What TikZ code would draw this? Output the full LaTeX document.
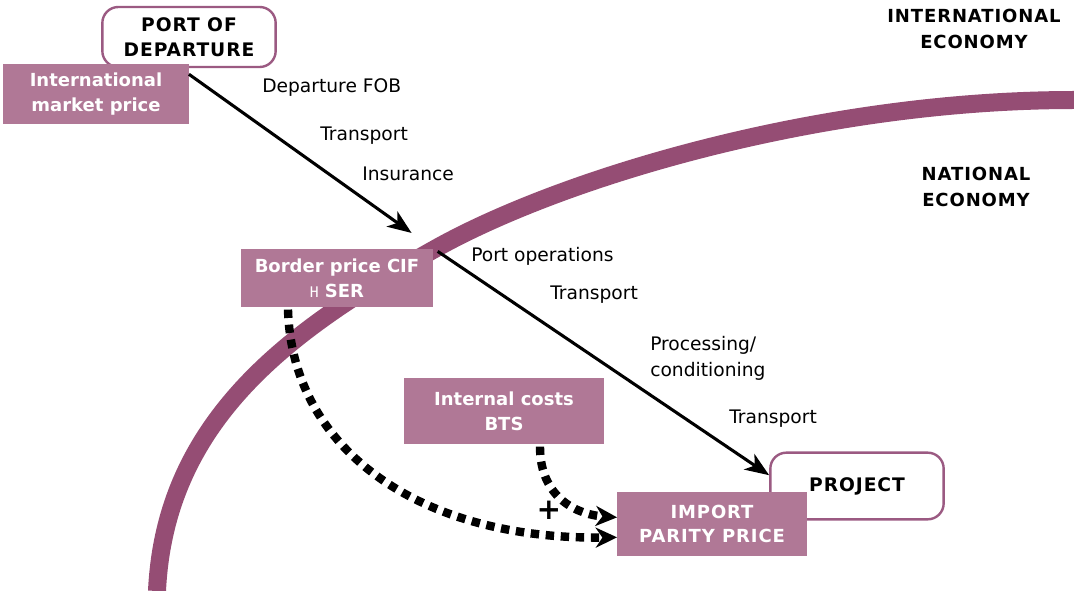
\documentclass[tikz,border=0pt]{standalone}
\usepackage{fontspec}
\setmainfont{DejaVu Sans}
\newfontfamily\capsfont[LetterSpace=5]{DejaVu Sans}
\newfontfamily\symfont{DejaVu Sans Mono}
\usetikzlibrary{arrows.meta, positioning, calc}
\definecolor{ipmauve}{RGB}{176,120,150}
\definecolor{ipplum}{RGB}{149,77,116}
\definecolor{ipedge}{RGB}{155,90,130}

\begin{document}
\begin{tikzpicture}[
  x=0.75pt, y=-0.75pt,
  pricebox/.style={rectangle, fill=ipmauve, draw=none, text=white, align=center, font=\fontsize{13.5}{18.5}\selectfont\bfseries},
  placebox/.style={rectangle, draw=ipedge, fill=white, line width=1.8pt, rounded corners=12pt, align=center, font=\fontsize{14}{19}\selectfont\capsfont\bfseries},
  zone/.style={align=center, font=\fontsize{13.5}{19}\selectfont\capsfont\bfseries},
  cost/.style={anchor=west, align=left, inner xsep=0pt, font=\fontsize{14}{19.5}\selectfont},
  flow/.style={-{Stealth[length=18pt, width=14pt, inset=5pt]}, line width=2.3pt},
  addon/.style={-{Stealth[length=16pt, width=15pt, inset=5pt]}, line width=6.3pt, dash pattern=on 6.3pt off 5pt},
  econ/.style={draw=ipplum, line width=13.5pt}
]
\useasboundingbox (0,0) rectangle (1074,591);

% Border between the two economies
\draw[econ] (157,591) .. controls (165,420) and (290,330) .. (433,250)
  .. controls (560,178) and (820,100) .. (1074,100);

\node[zone] (intecon) at (974,29) {INTERNATIONAL\\ECONOMY};
\node[zone] (natecon) at (976,187) {NATIONAL\\ECONOMY};

% Places
\node[placebox, minimum width=130pt, minimum height=45pt] (port) at (189,37) {PORT OF\\DEPARTURE};
\node[placebox, minimum width=130pt, minimum height=50pt] (project) at (857,486) {PROJECT};

% Prices
\node[pricebox, minimum width=139pt, minimum height=45pt] (intl) at (96,94) {International\\market price};
\node[pricebox, minimum width=144pt, minimum height=44pt] (border) at (337,278) {Border price CIF\\{\symfont\mdseries\fontsize{11}{18}\selectfont H} SER};
\node[pricebox, minimum width=150pt, minimum height=50pt] (internal) at (504,411) {Internal costs\\BTS};
\node[pricebox, font=\fontsize{13.5}{18.5}\selectfont\capsfont\bfseries, minimum width=142pt, minimum height=48pt] (import) at (712,524) {IMPORT\\PARITY PRICE};

% Cost items
\node[cost] (fob) at (262,88) {Departure FOB};
\node[cost] (trans1) at (320,136) {Transport};
\node[cost] (insur) at (362,174) {Insurance};
\node[cost] (portop) at (471,256) {Port operations};
\node[cost] (trans2) at (550,295) {Transport};
\node[cost] (proc) at (650,358) {Processing/\\conditioning};
\node[cost] (trans3) at (729,419) {Transport};

% Arrows
\draw[flow, shorten >=20pt] (intl.12) -- (border.north east);
\draw[flow, shorten <=4pt] (border.north east) -- (project.173);
\draw[addon] ($(border.south)+(-49,2)$) .. controls (292,450) and (420,540) .. (import.188);
\draw[addon] ($(internal.south)+(36,2)$) .. controls (540,500) and (580,515) .. (import.176);
\node[font=\fontsize{22}{22}\selectfont\bfseries] (plus) at (549,510) {+};

\end{tikzpicture}
\end{document}
